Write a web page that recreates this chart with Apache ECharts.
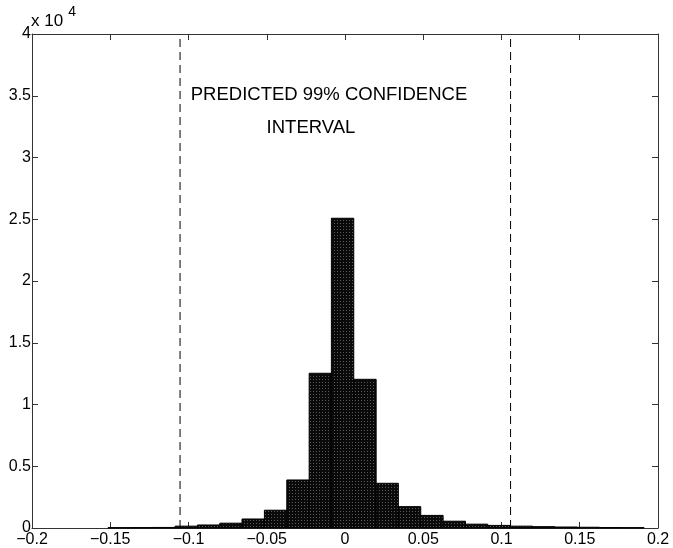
<!DOCTYPE html>
<html>
<head>
<meta charset="utf-8">
<script src="https://cdn.jsdelivr.net/npm/echarts@6/dist/echarts.min.js"></script>
<style>
html,body{margin:0;padding:0;background:#fff;}
#chart{width:673px;height:548px;}
</style>
</head>
<body>
<div id="chart"></div>
<script>
// Histogram bin edges (left, right) and counts
const binLeft = [-0.1514,-0.1371,-0.1229,-0.1086,-0.0943,-0.0800,-0.0658,-0.0515,-0.0372,-0.0229,-0.0087,0.0056,0.0199,0.0341,0.0484,0.0627,0.0770,0.0912,0.1055,0.1198,0.1341,0.1483,0.1626,0.1769];
const binRight = [-0.1371,-0.1229,-0.1086,-0.0943,-0.0800,-0.0658,-0.0515,-0.0372,-0.0229,-0.0087,0.0056,0.0199,0.0341,0.0484,0.0627,0.0770,0.0912,0.1055,0.1198,0.1341,0.1483,0.1626,0.1769,0.1911];
const counts = [30,35,45,150,245,390,730,1440,3890,12530,25080,12040,3620,1730,1020,550,310,210,150,110,80,60,40,30];
// Predicted 99% confidence interval bounds
const ciBounds = [-0.1054, 0.1058];
const xTicks = [-0.2,-0.15,-0.1,-0.05,0,0.05,0.1,0.15,0.2];
const yTicks = [0,0.5,1,1.5,2,2.5,3,3.5,4];
const annotation = ['PREDICTED 99% CONFIDENCE', 'INTERVAL'];

const fmt = v => {
  const s = String(Math.round(v*1000)/1000);
  return s.replace('-', '\u2212');
};

// stipple pattern for the bars
const pat = document.createElement('canvas');
pat.width = 3; pat.height = 3;
const pctx = pat.getContext('2d');
pctx.fillStyle = '#0a0a0a'; pctx.fillRect(0,0,3,3);
pctx.fillStyle = '#5a5a5a'; pctx.fillRect(1,1,1,1);

const histData = counts.map((c,i) => [binLeft[i], binRight[i], c]);
const axisColor = '#333';
const font = 'Liberation Sans, Arial, Helvetica, sans-serif';

const chart = echarts.init(document.getElementById('chart'), null, {renderer:'canvas'});
const grid = {left:32, top:34, right:15, bottom:20};
chart.setOption({
  animation:false,
  backgroundColor:'#fff',
  grid: grid,
  xAxis: [{
    type:'value', min:-0.2, max:0.2, interval:0.05,
    axisLine:{show:true, onZero:false, lineStyle:{color:axisColor, width:1}},
    axisTick:{show:true, inside:true, length:6, lineStyle:{color:axisColor}},
    axisLabel:{margin:4, fontSize:16, fontFamily:font, color:'#000', formatter:fmt, showMinLabel:true, showMaxLabel:true},
    splitLine:{show:false}
  },{
    type:'value', min:-0.2, max:0.2, interval:0.05, position:'top',
    axisLine:{show:true, onZero:false, lineStyle:{color:axisColor, width:1}},
    axisTick:{show:true, inside:true, length:6, lineStyle:{color:axisColor}},
    axisLabel:{show:false}, splitLine:{show:false}
  }],
  yAxis: [{
    type:'value', min:0, max:40000, interval:5000,
    axisLine:{show:true, onZero:false, lineStyle:{color:axisColor, width:1}},
    axisTick:{show:true, inside:true, length:6, lineStyle:{color:axisColor}},
    axisLabel:{margin:1, fontSize:16, fontFamily:font, color:'#000', formatter: v => fmt(v/10000)},
    splitLine:{show:false}
  },{
    type:'value', min:0, max:40000, interval:5000, position:'right',
    axisLine:{show:true, onZero:false, lineStyle:{color:axisColor, width:1}},
    axisTick:{show:true, inside:true, length:6, lineStyle:{color:axisColor}},
    axisLabel:{show:false}, splitLine:{show:false}
  }],
  series: [{
    type:'custom',
    xAxisIndex:0, yAxisIndex:0,
    data: histData,
    encode:{x:[0,1], y:2},
    renderItem: function(params, api){
      const p0 = api.coord([api.value(0), api.value(2)]);
      const p1 = api.coord([api.value(1), 0]);
      return {
        type:'rect',
        shape:{x:p0[0], y:p0[1], width:p1[0]-p0[0], height:p1[1]-p0[1]},
        style:{fill:{image:pat, repeat:'repeat'}, stroke:'#000', lineWidth:1}
      };
    }
  }].concat(ciBounds.map(b => ({
    type:'line', xAxisIndex:0, yAxisIndex:0,
    data:[[b,0],[b,40000]],
    symbol:'none',
    lineStyle:{color:'#000', width:1, type:[8,5]},
    z:5
  }))),
  graphic: [
    {type:'text', left:31, top:5, style:{
      text:'{a|x 10}{b|4}',
      rich:{a:{fontSize:17, fontFamily:font, fill:'#000', verticalAlign:'bottom', padding:[8,0,0,0]},
            b:{fontSize:14, fontFamily:font, fill:'#000', verticalAlign:'top', padding:[0,0,10,5]}}
    }},
    {type:'text', x:329, y:95, style:{text:annotation[0], fontSize:18.5, fontFamily:font, fill:'#000', align:'center', verticalAlign:'middle'}},
    {type:'text', x:311, y:128, style:{text:annotation[1], fontSize:18.5, fontFamily:font, fill:'#000', align:'center', verticalAlign:'middle'}}
  ]
});
</script>
</body>
</html>
